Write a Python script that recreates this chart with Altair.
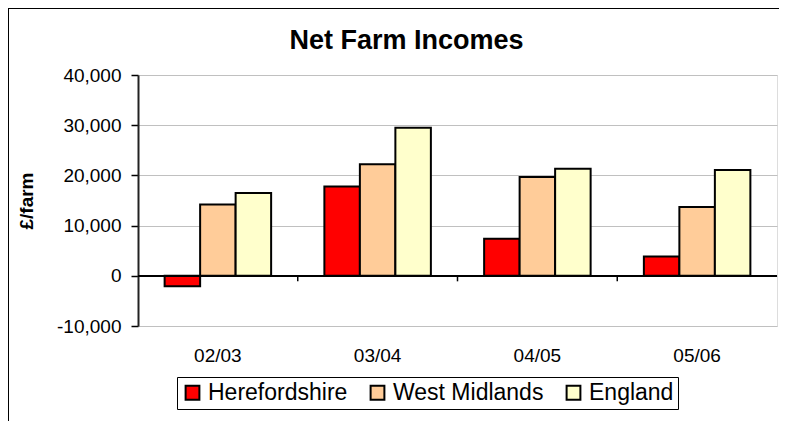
import altair as alt
import pandas as pd

years = ["02/03", "03/04", "04/05", "05/06"]
series = ["Herefordshire", "West Midlands", "England"]
herefordshire = [-2100, 17800, 7400, 3850]
west_midlands = [14200, 22200, 19700, 13700]
england = [16500, 29500, 21300, 21100]
colors = ["#FF0000", "#FFCC99", "#FFFFCC"]
y_ticks = [-10000, 0, 10000, 20000, 30000, 40000]

rows = []
for name, vals in zip(series, [herefordshire, west_midlands, england]):
    for yr, v in zip(years, vals):
        rows.append({"year": yr, "series": name, "value": v})
df = pd.DataFrame(rows)

FONT = "Liberation Sans"
W, H = 639, 251

xscale = alt.Scale(domain=years, paddingInner=0, paddingOuter=0)
yscale = alt.Scale(domain=[-10000, 40000], nice=False, zero=False)

bars = alt.Chart(df).mark_bar(stroke="black", strokeWidth=2).encode(
    x=alt.X("year:N", scale=xscale, sort=years,
            axis=alt.Axis(title=None, labelAngle=0, ticks=False, domain=False,
                          labelFontSize=19, labelFont=FONT, labelColor="black",
                          labelPadding=20, grid=False)),
    xOffset=alt.XOffset("series:N", sort=series,
                        scale=alt.Scale(domain=series, paddingInner=0, paddingOuter=0.75)),
    y=alt.Y("value:Q", scale=yscale,
            axis=alt.Axis(title="£/farm", values=y_ticks, format=",d",
                          labelExpr="replace(datum.label, '\u2212', '-')",
                          labelFontSize=19, labelFont=FONT, labelColor="black",
                          tickSize=7, tickColor="black", domainColor="#222222",
                          domainWidth=2, tickWidth=1.5, labelPadding=10,
                          gridColor="#C0C0C0", gridWidth=1.2,
                          titleFontSize=19, titleFont=FONT, titleFontWeight="bold",
                          titleColor="black", titleX=-112, titleY=H / 2,
                          titleAngle=-90, titleBaseline="middle", titleAlign="center")),
    color=alt.Color("series:N", sort=series,
                    scale=alt.Scale(domain=series, range=colors),
                    legend=alt.Legend(title=None, orient="none", direction="horizontal",
                                      legendX=39, legendY=302,
                                      labelFontSize=23, labelFont=FONT, labelColor="black",
                                      symbolType="square", symbolSize=190,
                                      symbolStrokeColor="black", symbolStrokeWidth=2,
                                      symbolOpacity=1, columnPadding=18, labelOffset=4,
                                      strokeColor="black", fillColor="white",
                                      padding=4, cornerRadius=0)),
)

zero_line = alt.Chart(df).mark_rule(color="black", strokeWidth=1.5).encode(
    y=alt.datum(0, scale=yscale)
)

tick_df = pd.DataFrame({"year": years[1:]})
ticks = alt.Chart(tick_df).mark_rule(color="black", strokeWidth=1.5).encode(
    x=alt.X("year:N", scale=xscale, bandPosition=0),
    y=alt.datum(0),
    y2=alt.datum(-1100),
)

frame = alt.Chart(alt.Data(values=[{"a": 1}])).mark_rect(
    fillOpacity=0, stroke="black", strokeWidth=2
).encode(
    x=alt.value(-130), x2=alt.value(760), y=alt.value(-67), y2=alt.value(420)
)

chart = alt.layer(frame, bars, zero_line, ticks).properties(
    width=W, height=H,
    title=alt.TitleParams("Net Farm Incomes", fontSize=27, font=FONT, fontWeight="bold",
                          color="black", anchor="middle", dx=-51, offset=22, dy=70),
    autosize=alt.AutoSizeParams(type="none"),
    padding={"left": 130, "top": 67, "right": 2, "bottom": 95},
).configure_view(
    stroke="#808080", strokeWidth=2.5
).configure(background="white")

chart.save("out.html", embed_options={"renderer": "svg", "actions": False})
